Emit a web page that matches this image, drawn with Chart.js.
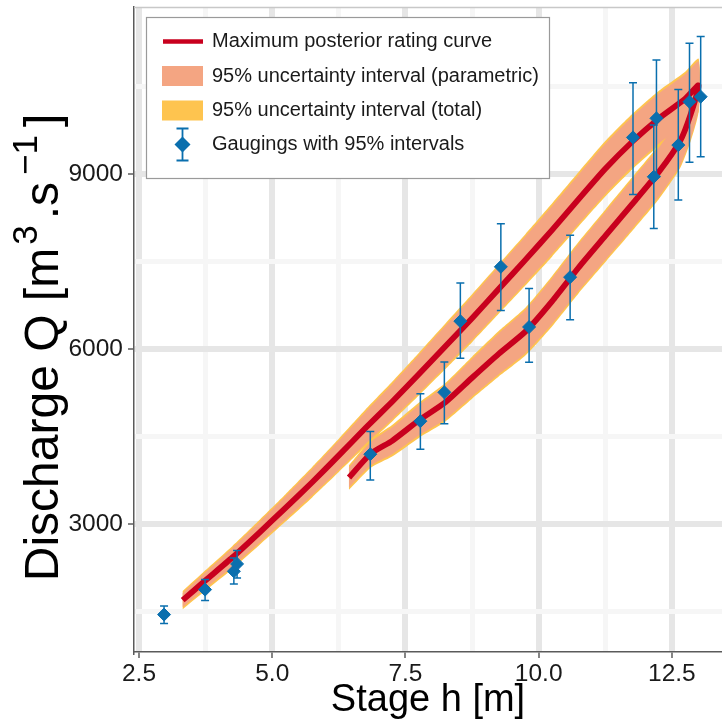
<!DOCTYPE html>
<html>
<head>
<meta charset="utf-8">
<script src="https://cdn.jsdelivr.net/npm/chart.js@4.4.1/dist/chart.umd.min.js"></script>
<style>
  html, body { margin: 0; padding: 0; background: #fff; }
  canvas { display: block; }
</style>
</head>
<body>
<canvas id="ratingCurve" width="722" height="726"></canvas>
<script>
// rising branch of the rating curve (stage h, discharge Q)
const hUp = [3.32, 3.75, 4.25, 4.75, 5.25, 5.75, 6.25, 6.75, 7.25, 7.75, 8.25, 8.75, 9.25, 9.75, 10.25, 10.75, 11.25, 11.75, 12.25, 12.75, 13.0]
const qUp = [1700, 2040, 2430, 2850, 3280, 3720, 4180, 4650, 5100, 5570, 6050, 6530, 7030, 7530, 8040, 8570, 9090, 9550, 9950, 10290, 10520]
const paramUpLo = [1580, 1900, 2270, 2670, 3080, 3495, 3930, 4375, 4800, 5245, 5700, 6160, 6645, 7130, 7630, 8150, 8660, 9120, 9520, 9870, 10110]
const paramUpHi = [1820, 2180, 2590, 3030, 3480, 3945, 4430, 4925, 5400, 5895, 6400, 6900, 7415, 7930, 8450, 8990, 9520, 9980, 10380, 10710, 10930]
const totalUpLo = [1545, 1865, 2235, 2635, 3045, 3460, 3895, 4335, 4760, 5205, 5660, 6120, 6605, 7090, 7585, 8105, 8615, 9075, 9475, 9825, 10065]
const totalUpHi = [1855, 2215, 2625, 3065, 3515, 3980, 4465, 4965, 5440, 5935, 6440, 6940, 7455, 7970, 8495, 9035, 9565, 10025, 10425, 10755, 10975]

// falling branch
const hLow = [6.44, 6.85, 7.25, 7.75, 8.25, 8.75, 9.25, 9.75, 10.25, 10.75, 11.25, 11.75, 12.25, 12.65, 12.85, 13.0]
const qLow = [3800, 4210, 4430, 4780, 5090, 5510, 5920, 6300, 6820, 7400, 7940, 8480, 9030, 9560, 10020, 10520]
const paramLowLo = [3630, 4010, 4200, 4520, 4800, 5190, 5570, 5930, 6430, 7000, 7530, 8060, 8610, 9140, 9605, 10110]
const paramLowHi = [3970, 4410, 4660, 5040, 5380, 5830, 6270, 6670, 7210, 7800, 8350, 8900, 9450, 9980, 10435, 10930]
const totalLowLo = [3590, 3970, 4160, 4480, 4760, 5150, 5530, 5890, 6390, 6960, 7490, 8020, 8565, 9095, 9560, 10065]
const totalLowHi = [4010, 4450, 4700, 5080, 5420, 5870, 6310, 6710, 7250, 7840, 8390, 8940, 9495, 10025, 10480, 10975]

// gaugings with 95% intervals
const gaugeH = [2.97, 3.74, 4.28, 4.34, 6.84, 7.78, 8.23, 8.53, 9.29, 9.82, 10.59, 11.77, 12.16, 12.21, 12.62, 12.83, 13.04]
const gaugeQ = [1452, 1880, 2194, 2320, 4200, 4766, 5260, 6480, 7411, 6380, 7234, 9629, 8954, 9955, 9497, 10240, 10326]
const gaugeLo = [1300, 1692, 1977, 2080, 3760, 4286, 4720, 5846, 6664, 5777, 6502, 8652, 8069, 8960, 8554, 9201, 9297]
const gaugeHi = [1600, 2052, 2422, 2549, 4590, 5234, 5782, 7132, 8148, 7041, 7954, 10566, 9840, 10955, 10451, 11241, 11357]

// axis ticks (labels only on the major ones)
const xTicks = [2.5, 3.75, 5, 6.25, 7.5, 8.75, 10, 11.25, 12.5]
const yTicks = [1500, 3000, 4500, 6000, 7500, 9000, 10500]

const RED = '#C8001E'
const SALMON = '#F4A582'
const YELLOW = '#FEC44F'
const BLUE = '#0A6FAE'
const FONT = "'Liberation Sans', Arial, sans-serif"

function band(h, lo, hi) {
    const pts = h.map((v, i) => ({ x: v, y: hi[i] }))
    for (let i = h.length - 1; i >= 0; i--) pts.push({ x: h[i], y: lo[i] })
    return pts
}

// one path: up the rising branch, back down the falling one
const curve = hUp.map((v, i) => ({ x: v, y: qUp[i] }))
for (let i = hLow.length - 2; i >= 0; i--) curve.push({ x: hLow[i], y: qLow[i] })

const capHalf = 0.075
const errorBars = []
gaugeH.forEach((h, i) => {
    errorBars.push(
        { x: h, y: gaugeLo[i] }, { x: h, y: gaugeHi[i] }, { x: h, y: null },
        { x: h - capHalf, y: gaugeLo[i] }, { x: h + capHalf, y: gaugeLo[i] }, { x: h, y: null },
        { x: h - capHalf, y: gaugeHi[i] }, { x: h + capHalf, y: gaugeHi[i] }, { x: h, y: null }
    )
})

const isMajor = (v, step) => Math.abs(v / step - Math.round(v / step)) < 1e-6

const bandStyle = color => ({
    showLine: true, fill: 'shape', backgroundColor: color,
    borderWidth: 0, borderColor: 'rgba(0,0,0,0)', pointRadius: 0, tension: 0.2
})

const data = {
    datasets: [
        { label: 'gaugings', data: gaugeH.map((h, i) => ({ x: h, y: gaugeQ[i] })),
          pointStyle: 'rectRot', pointRadius: 6.5, backgroundColor: BLUE, borderColor: BLUE, borderWidth: 1, order: 0 },
        { label: 'error bars', data: errorBars, showLine: true, spanGaps: false,
          borderColor: BLUE, borderWidth: 1.5, pointRadius: 0, order: 1 },
        { label: 'curve', data: curve, showLine: true, borderColor: RED, borderWidth: 5.8,
          borderJoinStyle: 'round', pointRadius: 0, tension: 0.2, order: 2 },
        { label: 'param up', data: band(hUp, paramUpLo, paramUpHi), ...bandStyle(SALMON), order: 3 },
        { label: 'param low', data: band(hLow, paramLowLo, paramLowHi), ...bandStyle(SALMON), order: 3 },
        { label: 'total up', data: band(hUp, totalUpLo, totalUpHi), ...bandStyle(YELLOW), order: 4 },
        { label: 'total low', data: band(hLow, totalLowLo, totalLowHi), ...bandStyle(YELLOW), order: 4 }
    ]
}

// legend box inside the panel + y title with superscripts
const legendBox = {
    id: 'legendBox',
    afterDatasetsDraw(chart) {
        const c = chart.ctx
        const area = chart.chartArea
        c.save()
        c.strokeStyle = '#c8c8c8'
        c.lineWidth = 1.5
        c.beginPath()
        c.moveTo(area.left, area.top + 0.5)
        c.lineTo(area.right, area.top + 0.5)
        c.stroke()

        c.fillStyle = '#fff'
        c.fillRect(146, 17, 404, 162)
        c.strokeStyle = '#9a9a9a'
        c.lineWidth = 1.2
        c.strokeRect(146.5, 17.5, 403, 161)

        const rows = [41.5, 76, 110.5, 144.5]
        c.strokeStyle = RED
        c.lineWidth = 4.5
        c.beginPath()
        c.moveTo(163, rows[0]); c.lineTo(203, rows[0])
        c.stroke()
        c.fillStyle = SALMON
        c.fillRect(162, rows[1] - 10, 41, 20)
        c.fillStyle = YELLOW
        c.fillRect(162, rows[2] - 10, 41, 20)

        const dx = 182.5, dy = rows[3]
        c.strokeStyle = BLUE
        c.lineWidth = 1.8
        c.beginPath()
        c.moveTo(dx, dy - 16); c.lineTo(dx, dy + 16)
        c.moveTo(dx - 6, dy - 16); c.lineTo(dx + 6, dy - 16)
        c.moveTo(dx - 6, dy + 16); c.lineTo(dx + 6, dy + 16)
        c.stroke()
        c.fillStyle = BLUE
        c.beginPath()
        c.moveTo(dx, dy - 8); c.lineTo(dx + 8, dy); c.lineTo(dx, dy + 8); c.lineTo(dx - 8, dy)
        c.closePath()
        c.fill()

        const labels = ['Maximum posterior rating curve', '95% uncertainty interval (parametric)',
            '95% uncertainty interval (total)', 'Gaugings with 95% intervals']
        c.fillStyle = '#1a1a1a'
        c.font = '20px ' + FONT
        c.textBaseline = 'middle'
        c.textAlign = 'left'
        labels.forEach((t, i) => c.fillText(t, 212, rows[i]))
        c.restore()
    },
    afterDraw(chart) {
        const c = chart.ctx
        const area = chart.chartArea
        const big = '48px ' + FONT
        const small = '35px ' + FONT
        const parts = [
            { t: 'Discharge Q [m', f: big, dy: 0, pad: 0 },
            { t: '3', f: small, dy: -21, pad: 3 },
            { t: '.s', f: big, dy: 0, pad: 3 },
            { t: '\u22121', f: small, dy: -21, pad: 4 },
            { t: ']', f: big, dy: 0, pad: 4 }
        ]
        c.save()
        let total = 0
        parts.forEach(p => { c.font = p.f; p.w = c.measureText(p.t).width + 2 * p.pad; total += p.w })
        c.translate(58, (area.top + area.bottom) / 2 + 16)
        c.rotate(-Math.PI / 2)
        c.fillStyle = '#000'
        c.textBaseline = 'alphabetic'
        c.textAlign = 'left'
        let x = -total / 2
        parts.forEach(p => { c.font = p.f; c.fillText(p.t, x + p.pad, p.dy); x += p.w })
        c.restore()
    }
}

const options = {
    responsive: false,
    animation: false,
    devicePixelRatio: 1,
    layout: { autoPadding: false, padding: { top: 7, left: 0, right: 0, bottom: 0 } },
    plugins: { legend: { display: false }, tooltip: { enabled: false } },
    scales: {
        x: {
            type: 'linear', position: 'bottom', min: 2.406, max: 13.44,
            afterBuildTicks: scale => { scale.ticks = xTicks.map(v => ({ value: v })) },
            afterFit: scale => { scale.height = 74; scale.paddingLeft = 0; scale.paddingRight = 0 },
            ticks: {
                autoSkip: false, maxRotation: 0,
                color: '#1a1a1a', font: { size: 24.5, family: FONT }, padding: 2,
                callback: v => isMajor(v, 2.5) ? v.toFixed(1) : ''
            },
            grid: {
                color: ctx => ctx.tick && isMajor(ctx.tick.value, 2.5) ? '#e6e6e6' : '#f6f6f6',
                lineWidth: ctx => ctx.tick && isMajor(ctx.tick.value, 2.5) ? 6 : 5,
                tickColor: ctx => ctx.tick && isMajor(ctx.tick.value, 2.5) ? '#333' : 'rgba(0,0,0,0)',
                tickWidth: 1.2, tickLength: 6
            },
            border: { color: '#5a5a5a', width: 1.5 },
            title: { display: true, text: 'Stage h [m]', color: '#000', font: { size: 38, family: FONT }, padding: { top: 0, bottom: 3 } }
        },
        y: {
            type: 'linear', min: 811, max: 11863,
            afterBuildTicks: scale => { scale.ticks = yTicks.map(v => ({ value: v })) },
            afterFit: scale => { scale.width = 134; scale.paddingTop = 0; scale.paddingBottom = 0 },
            ticks: {
                autoSkip: false,
                color: '#1a1a1a', font: { size: 24.5, family: FONT }, padding: 5,
                callback: v => isMajor(v, 3000) ? String(v) : ''
            },
            grid: {
                color: ctx => ctx.tick && isMajor(ctx.tick.value, 3000) ? '#e6e6e6' : '#f6f6f6',
                lineWidth: ctx => ctx.tick && isMajor(ctx.tick.value, 3000) ? 6 : 5,
                tickColor: ctx => ctx.tick && isMajor(ctx.tick.value, 3000) ? '#333' : 'rgba(0,0,0,0)',
                tickWidth: 1.2, tickLength: 6
            },
            border: { color: '#5a5a5a', width: 1.5 },
            title: { display: false }
        }
    }
}

const ctx = document.getElementById('ratingCurve').getContext('2d')
const chart = new Chart(ctx, {
    type: 'scatter',
    data: data,
    options: options,
    plugins: [legendBox]
})
</script>
</body>
</html>
